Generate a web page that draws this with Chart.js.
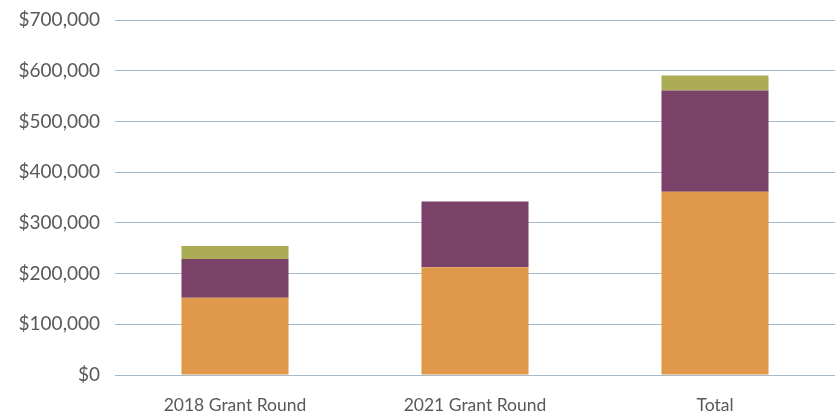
<!DOCTYPE html>
<html>
<head>
<meta charset="utf-8">
<script src="https://cdn.jsdelivr.net/npm/chart.js@4/dist/chart.umd.min.js"></script>
<style>
html,body{margin:0;padding:0;background:#fff;}
#wrap{width:835px;height:418px;position:relative;}
</style>
</head>
<body>
<div id="wrap"><canvas id="c"></canvas></div>
<script>
const categories = ["2018 Grant Round", "2021 Grant Round", "Total"];
const seriesOrange = [152500, 212400, 361100];
const seriesPurple = [76300, 129600, 200000];
const seriesGreen = [25600, 0, 29600];
const yTicks = [0, 100000, 200000, 300000, 400000, 500000, 600000, 700000];

const gridColor = '#A8B8CC';
new Chart(document.getElementById('c'), {
  type: 'bar',
  data: {
    labels: categories,
    datasets: [
      {label: 'A', data: seriesOrange, backgroundColor: '#E0994A', barPercentage: 1, categoryPercentage: 0.446},
      {label: 'B', data: seriesPurple, backgroundColor: '#7B4269', barPercentage: 1, categoryPercentage: 0.446},
      {label: 'C', data: seriesGreen, backgroundColor: '#ACAC55', barPercentage: 1, categoryPercentage: 0.446}
    ]
  },
  options: {
    responsive: true,
    maintainAspectRatio: false,
    animation: false,
    layout: {padding: {top: 20, right: 0, left: 0, bottom: 0}},
    plugins: {legend: {display: false}, tooltip: {enabled: false}},
    scales: {
      x: {
        stacked: true,
        grid: {display: false, drawTicks: false},
        border: {display: false},
        afterFit: (s) => { s.height = 43; s.paddingLeft = 0; s.paddingRight = 0; },
        ticks: {color: '#595959', font: {family: 'Lato', size: 17.5}, padding: 20}
      },
      y: {
        stacked: true,
        min: 0, max: 700000,
        afterBuildTicks: (s) => { s.ticks = yTicks.map(v => ({value: v})); },
        afterFit: (s) => { s.width = 115; s.paddingTop = 0; s.paddingBottom = 0; },
        grid: {color: gridColor, lineWidth: 1, drawTicks: false},
        border: {display: false},
        ticks: {
          color: '#595959', font: {family: 'Lato', size: 19}, padding: 15,
          callback: (v) => '$' + v.toLocaleString('en-US')
        }
      }
    }
  }
});
</script>
</body>
</html>
